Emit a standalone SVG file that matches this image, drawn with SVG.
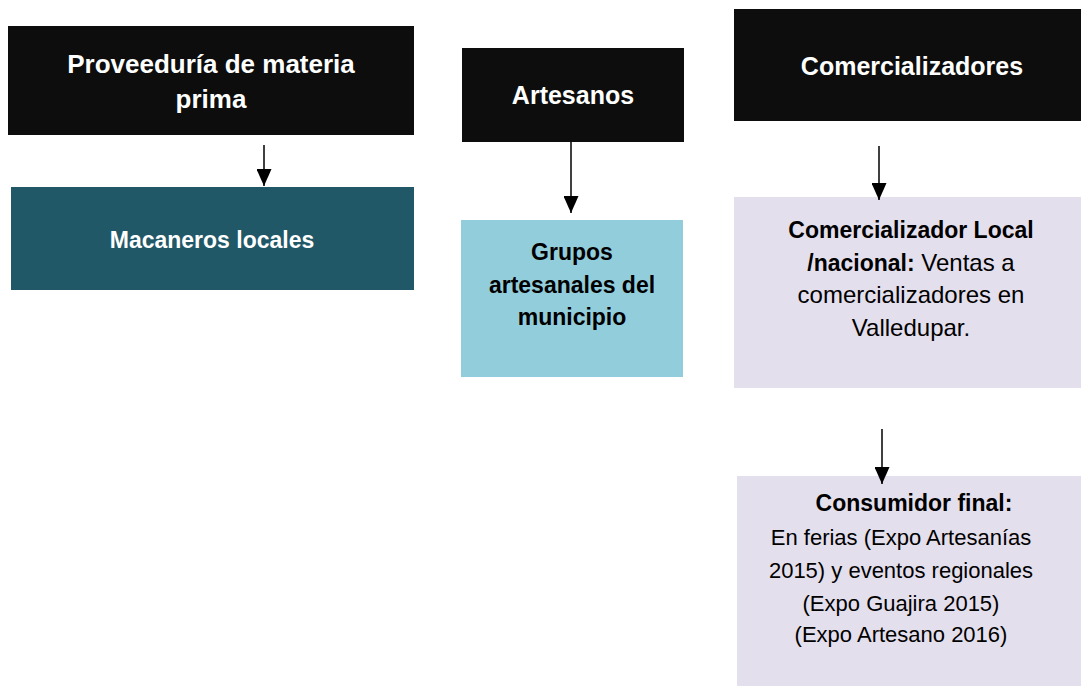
<svg xmlns="http://www.w3.org/2000/svg" width="1081" height="686" viewBox="0 0 1081 686">
<style>
text{font-family:"Liberation Sans",Arial,sans-serif;text-anchor:middle}
.t{font-size:25px;font-weight:bold;fill:#ffffff}
.t26{font-size:26px;font-weight:bold;fill:#ffffff}
.w{font-size:23px;font-weight:bold;fill:#ffffff}
.b{font-size:23px;font-weight:bold;fill:#000000}
.r{font-size:24px;fill:#000000}
.s{font-size:22px;fill:#000000}
.k{fill:#0d0d0d}
.conn line{stroke:#000;stroke-width:1.5}
</style>
<defs>
<marker id="ah" markerUnits="userSpaceOnUse" markerWidth="17" markerHeight="15" refX="17" refY="7.5" viewBox="0 0 17 15" orient="auto">
<path d="M0,0 L17,7.5 L0,15 z" fill="#000"/>
</marker>
</defs>
<rect width="1081" height="686" fill="#ffffff"/>
<g id="proveeduria">
<rect class="k" x="8" y="26" width="406" height="109"/>
<text class="t26" x="211" y="73">Proveeduría de materia</text>
<text class="t26" x="211" y="108">prima</text>
</g>
<g id="macaneros">
<rect x="11" y="187" width="403" height="103" fill="#215868"/>
<text class="w" x="212" y="248">Macaneros locales</text>
</g>
<g id="artesanos">
<rect class="k" x="462" y="48" width="222" height="94"/>
<text class="t" x="573" y="104">Artesanos</text>
</g>
<g id="grupos">
<rect x="461" y="220" width="222" height="157" fill="#92cddc"/>
<text class="b" x="572" y="260">Grupos</text>
<text class="b" x="572" y="293">artesanales del</text>
<text class="b" x="572" y="325">municipio</text>
</g>
<g id="comercializadores">
<rect class="k" x="734" y="9" width="347" height="112"/>
<text class="t" x="912" y="75">Comercializadores</text>
</g>
<g id="comercializador-local">
<rect x="734" y="197" width="347" height="191" fill="#e4dfec"/>
<text class="b" x="911" y="238">Comercializador Local</text>
<text class="r" x="911" y="271"><tspan style="font-weight:bold;font-size:23px">/nacional:</tspan> Ventas a</text>
<text class="r" x="911" y="303">comercializadores en</text>
<text class="r" x="911" y="336">Valledupar.</text>
</g>
<g id="consumidor-final">
<rect x="737" y="476" width="344" height="210" fill="#e4dfec"/>
<text class="b" x="914" y="511">Consumidor final:</text>
<text class="s" x="901" y="545">En ferias (Expo Artesanías</text>
<text class="s" x="901" y="578">2015) y eventos regionales</text>
<text class="s" x="901" y="611">(Expo Guajira 2015)</text>
<text class="s" x="901" y="642">(Expo Artesano 2016)</text>
</g>
<g id="connectors" class="conn">
<line x1="264" y1="145" x2="264" y2="186" marker-end="url(#ah)"/>
<line x1="571" y1="142" x2="571" y2="213" marker-end="url(#ah)"/>
<line x1="879" y1="146" x2="879" y2="200" marker-end="url(#ah)"/>
<line x1="882" y1="429" x2="882" y2="484" marker-end="url(#ah)"/>
</g>
</svg>
